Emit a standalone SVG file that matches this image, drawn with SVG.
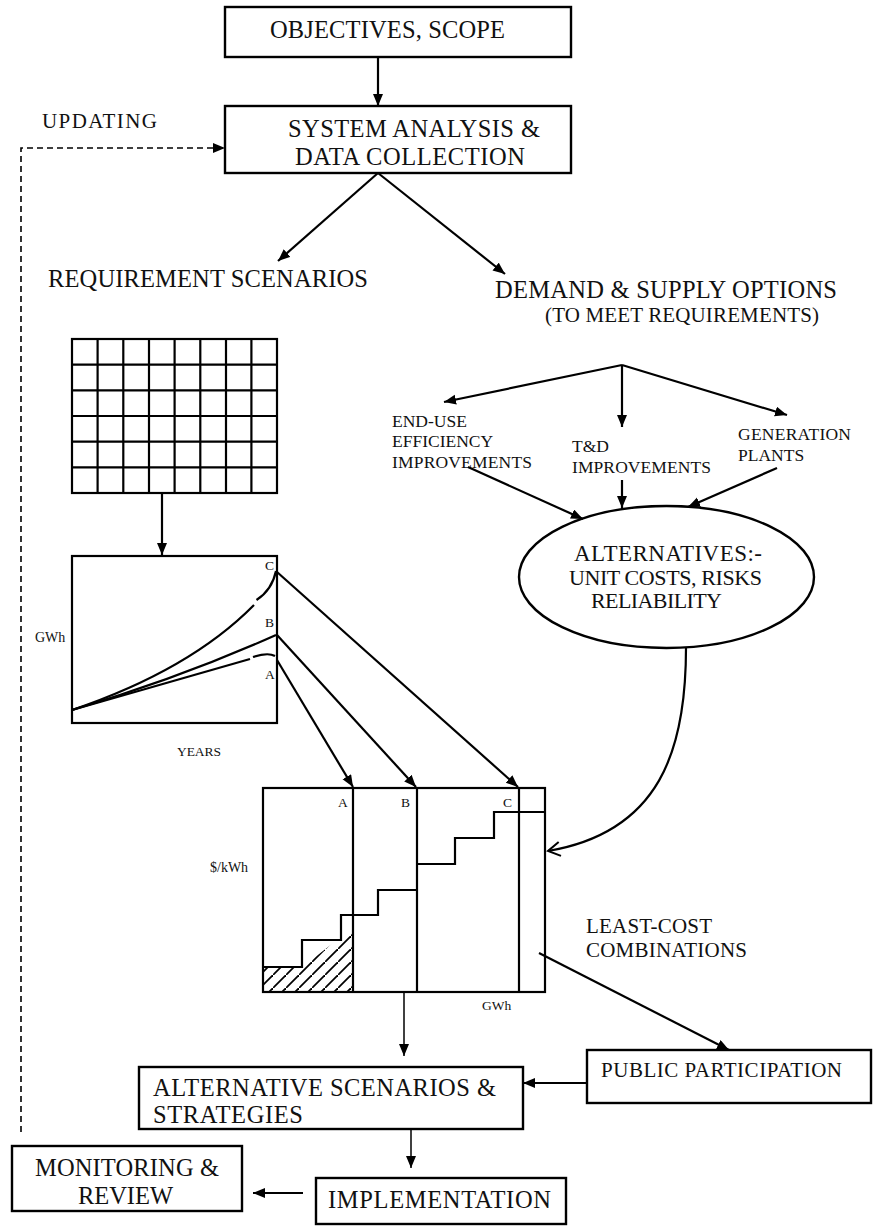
<svg xmlns="http://www.w3.org/2000/svg" width="873" height="1226" viewBox="0 0 873 1226">
<style>
.box{fill:#fff;stroke:#000;stroke-width:2.4}
.ln{fill:none;stroke:#000;stroke-width:2.2}
.thin{fill:none;stroke:#000;stroke-width:1.5}
.t{font-family:"Liberation Serif","Times New Roman",serif;fill:#111}
.big{font-size:24.5px}
.mid{font-size:21px}
.sm{font-size:17.5px}
.xs{font-size:13.5px}
</style>
<defs>
<marker id="ah" markerUnits="userSpaceOnUse" markerWidth="14" markerHeight="12" refX="12" refY="5" orient="auto">
<path d="M0,0 L12,5 L0,10 Z" fill="#000"/>
</marker>
<marker id="open" markerUnits="userSpaceOnUse" markerWidth="16" markerHeight="18" refX="13" refY="8" orient="auto">
<path d="M1,1 L13,8 L1,15" fill="none" stroke="#000" stroke-width="2"/>
</marker>
<pattern id="hatch" patternUnits="userSpaceOnUse" width="13" height="13">
<path d="M-2,15 L15,-2" stroke="#000" stroke-width="1.8"/>
</pattern>
</defs>

<g id="objectives">
<rect class="box" x="225" y="7" width="346" height="50"/>
<text class="t big" x="270" y="38" textLength="235">OBJECTIVES, SCOPE</text>
</g>

<g id="system-analysis">
<rect class="box" x="225" y="106" width="346" height="67"/>
<text class="t big" x="288" y="137" textLength="252">SYSTEM ANALYSIS &amp;</text>
<text class="t big" x="295" y="165" textLength="230">DATA COLLECTION</text>
</g>

<g id="updating-label">
<text class="t" font-size="21" x="42" y="128" textLength="115">UPDATING</text>
</g>

<g id="requirement-scenarios">
<text class="t big" x="48" y="287" textLength="320">REQUIREMENT SCENARIOS</text>
</g>

<g id="demand-supply">
<text class="t big" x="495" y="298" textLength="342">DEMAND &amp; SUPPLY OPTIONS</text>
<text class="t mid" x="545" y="322" textLength="274">(TO MEET REQUIREMENTS)</text>
</g>

<g id="end-use">
<text class="t sm" x="392" y="427">END-USE</text>
<text class="t sm" x="392" y="447">EFFICIENCY</text>
<text class="t sm" x="392" y="468" textLength="140">IMPROVEMENTS</text>
</g>

<g id="td">
<text class="t sm" x="572" y="452">T&amp;D</text>
<text class="t sm" x="572" y="473" textLength="139">IMPROVEMENTS</text>
</g>

<g id="generation">
<text class="t sm" x="738" y="440" textLength="113">GENERATION</text>
<text class="t sm" x="738" y="461">PLANTS</text>
</g>

<g id="alternatives">
<ellipse class="box" cx="666.5" cy="577" rx="147.5" ry="71"/>
<text class="t" font-size="23" x="574" y="561" textLength="188">ALTERNATIVES:-</text>
<text class="t" font-size="22" x="569" y="585" textLength="193">UNIT COSTS, RISKS</text>
<text class="t" font-size="22" x="591" y="608" textLength="131">RELIABILITY</text>
</g>

<g id="grid">
<rect class="ln" x="72" y="339" width="205" height="154"/>
<path class="ln" d="M97.6,339V493M123.3,339V493M149,339V493M174.6,339V493M200.3,339V493M226,339V493M251.4,339V493M72,364.7H277M72,390.3H277M72,416H277M72,441.7H277M72,467.3H277"/>
</g>

<g id="demand-graph">
<rect class="ln" x="72" y="556" width="205" height="167"/>
<path class="ln" d="M72,710 Q190,670 254,605"/>
<path class="ln" d="M256.5,600 Q272,590 276,571"/>
<path class="ln" d="M72,710 Q180,678 276,635"/>
<path class="ln" d="M72,710 L250,659"/>
<path class="ln" d="M253,657 Q268,652 275,656"/>
<text class="t xs" x="265" y="570">C</text>
<text class="t xs" x="265" y="627">B</text>
<text class="t xs" x="265" y="679">A</text>
<text class="t" font-size="14" x="35" y="642">GWh</text>
<text class="t xs" x="177" y="756" textLength="44">YEARS</text>
</g>

<g id="cost-chart">
<polygon points="263,992 263,967 302,967 353,928 353,992" fill="url(#hatch)"/>
<rect class="ln" x="263" y="788" width="282" height="204"/>
<path class="ln" d="M353,788V992M417,788V992M519,788V992"/>
<path class="ln" d="M263,967H302V940H341V915H378V890H417M417,864H455V838H494V812H545"/>
<text class="t xs" x="338" y="807">A</text>
<text class="t xs" x="401" y="807">B</text>
<text class="t xs" x="503" y="807">C</text>
<text class="t" font-size="14" x="210" y="872">$/kWh</text>
<text class="t xs" x="482" y="1010">GWh</text>
<text class="t mid" x="586" y="933" textLength="126">LEAST-COST</text>
<text class="t mid" x="586" y="957" textLength="161">COMBINATIONS</text>
</g>

<g id="alternative-scenarios">
<rect class="box" x="139" y="1067" width="384" height="62"/>
<text class="t big" x="153" y="1096" textLength="343">ALTERNATIVE SCENARIOS &amp;</text>
<text class="t big" x="153" y="1123" textLength="150">STRATEGIES</text>
</g>

<g id="public-participation">
<rect class="box" x="587" y="1050" width="284" height="53"/>
<text class="t mid" x="601" y="1077" textLength="241">PUBLIC PARTICIPATION</text>
</g>

<g id="implementation">
<rect class="box" x="316" y="1178" width="250" height="46"/>
<text class="t big" x="328" y="1208" textLength="223">IMPLEMENTATION</text>
</g>

<g id="monitoring">
<rect class="box" x="12" y="1146" width="230" height="65"/>
<text class="t big" x="35" y="1176" textLength="184">MONITORING &amp;</text>
<text class="t big" x="78" y="1204" textLength="95">REVIEW</text>
</g>

<g id="connectors">
<path class="ln" d="M378,57V106" marker-end="url(#ah)"/>
<path d="M21,1132V148H225" fill="none" stroke="#000" stroke-width="1.6" stroke-dasharray="6,4" marker-end="url(#ah)"/>
<path class="ln" d="M378,173L278,261" marker-end="url(#ah)"/>
<path class="ln" d="M378,173L505,274" marker-end="url(#ah)"/>
<path class="ln" d="M622,365L444,402" marker-end="url(#ah)"/>
<path class="ln" d="M622,365V427" marker-end="url(#ah)"/>
<path class="ln" d="M622,365L787,415" marker-end="url(#ah)"/>
<path class="ln" d="M468,467L583,519" marker-end="url(#ah)"/>
<path class="ln" d="M622,480V508" marker-end="url(#ah)"/>
<path class="ln" d="M777,468L688,507" marker-end="url(#ah)"/>
<path class="ln" d="M162,493V555" marker-end="url(#ah)"/>
<path class="ln" d="M277,572L518,787" marker-end="url(#ah)"/>
<path class="ln" d="M277,635L416,787" marker-end="url(#ah)"/>
<path class="ln" d="M277,660L353,787" marker-end="url(#ah)"/>
<path class="ln" d="M686,648C686,750 660,832 548,851" marker-end="url(#open)"/>
<path class="ln" d="M539,953L729,1050" marker-end="url(#ah)"/>
<path class="thin" d="M404,992V1056" marker-end="url(#ah)"/>
<path class="ln" d="M587,1083H523" marker-end="url(#ah)"/>
<path class="thin" d="M411,1129V1168" marker-end="url(#ah)"/>
<path class="ln" d="M303,1193H253" marker-end="url(#ah)"/>
</g>
</svg>
